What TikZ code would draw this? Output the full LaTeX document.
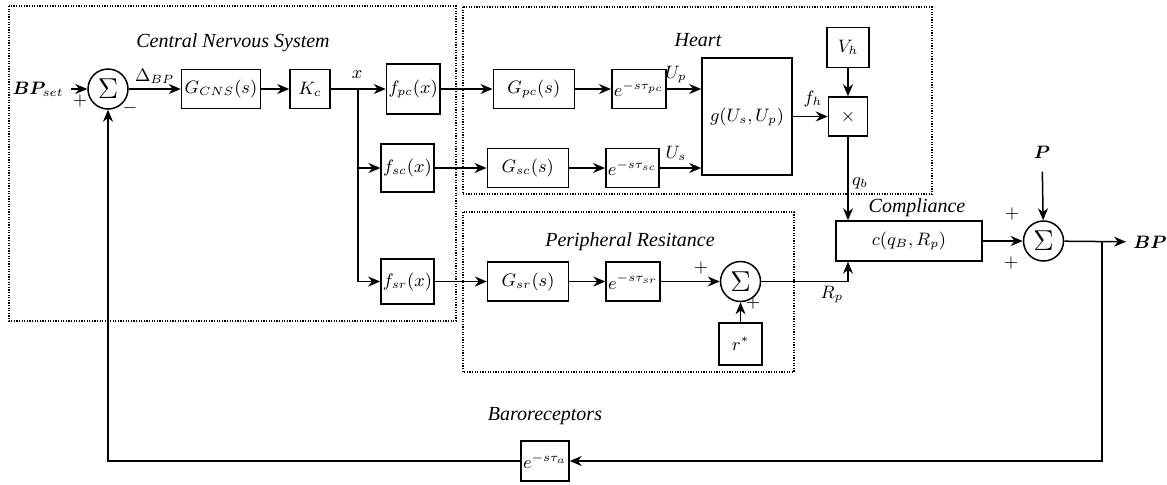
\documentclass[tikz,border=0pt]{standalone}
\usepackage{fontspec}
\setmainfont{Liberation Serif}
\usepackage{bm}
\usetikzlibrary{positioning,arrows.meta}

\begin{document}
\begin{tikzpicture}[x=0.5pt,y=-0.5pt,font=\small,
                >={Stealth[length=6pt,width=5pt]},
                every path/.style = {line width=0.75pt},
                block/.style = {draw, minimum width=20pt, minimum height=19.5pt, inner sep=1pt},
                sum/.style = {draw, circle, minimum size=20pt, inner sep=0pt, font=\Large},
                zone/.style = {line width=0.7pt, dash pattern=on 0.6pt off 0.7pt},
                zonetitle/.style = {font=\itshape\normalsize}]
                \useasboundingbox (0,0) rectangle (1167,484);
                % dotted subsystems
                \draw[zone] (9,6) rectangle (456,321);
                \draw[zone] (463,7) rectangle (932,194);
                \draw[zone] (463,212) rectangle (794,372);
                \node[zonetitle] (tcns) at (233,43) {Central Nervous System};
                \node[zonetitle] (theart) at (698,40) {Heart};
                \node[zonetitle] (tper) at (630,242) {Peripheral Resitance};
                \node[zonetitle] (tcomp) at (917,208) {Compliance};
                \node[zonetitle] (tbaro) at (545,416) {Baroreceptors};
                % central nervous system
                \node (bpset) at (38,89) {$\bm{BP}_{set}$};
                \node[sum] (sum1) at (108,89) {$\Sigma$};
                \node[block, minimum width=39.5pt, right=26pt of sum1] (gcns) {$G_{CNS}(s)$};
                \node[block, right=14pt of gcns] (kc) {$K_c$};
                \node[block, minimum width=25.5pt, minimum height=25pt, right=27.5pt of kc] (fpc) {$f_{pc}(x)$};
                \node[block, minimum width=25.5pt, minimum height=24pt] (fsc) at (407.5,168) {$f_{sc}(x)$};
                \node[block, minimum width=25.5pt, minimum height=22.5pt] (fsr) at (407.5,281.5) {$f_{sr}(x)$};
                \coordinate (xsplit) at (358,89);
                \node (plus1) at (80,101) {$+$};
                \node (minus1) at (130,108) {$-$};
                \node (xlbl) at (357,75) {$x$};
                % heart
                \node[block, minimum width=40.5pt, right=26pt of fpc] (gpc) {$G_{pc}(s)$};
                \node[block, minimum width=25pt, right=18pt of gpc] (dpc) {$e^{-s\tau_{pc}}$};
                \node[block, minimum width=40.5pt, right=26pt of fsc] (gsc) {$G_{sc}(s)$};
                \node[block, minimum width=25pt, right=18pt of gsc] (dsc) {$e^{-s\tau_{sc}}$};
                \node[block, minimum width=45pt, minimum height=58.5pt] (g) at (747,116.5) {$g(U_s,U_p)$};
                \node[block, minimum width=19.5pt, right=17.5pt of g] (times) {$\times$};
                \node[block, minimum width=21pt, minimum height=20pt, above=14pt of times] (vh) {$V_h$};
                \node (uplbl) at (676,75) {$U_p$};
                \node (uslbl) at (676,153) {$U_s$};
                \node (fhlbl) at (813,99) {$f_h$};
                \node (qblbl) at (860,183) {$q_b$};
                % peripheral resistance
                \node[block, minimum width=40.5pt, right=26pt of fsr] (gsr) {$G_{sr}(s)$};
                \node[block, minimum width=25pt, right=18pt of gsr] (dsr) {$e^{-s\tau_{sr}}$};
                \node[sum, right=29.5pt of dsr] (sum2) {$\Sigma$};
                \node[block, minimum width=21.5pt, minimum height=21pt, below=10pt of sum2] (rstar) {$r^*$};
                \node (plus2a) at (701,268) {$+$};
                \node (plus2b) at (753,303) {$+$};
                \node (rplbl) at (832,295) {$R_p$};
                % compliance and output
                \node[block, minimum width=73pt, minimum height=20pt] (comp) at (909,241) {$c(q_B,R_p)$};
                \node[sum, right=20pt of comp] (sum3) {$\Sigma$};
                \node (pin) at (1042,152) {$\bm{P}$};
                \node (bpout) at (1150,242) {$\bm{BP}$};
                \node (plus3a) at (1012,214) {$+$};
                \node (plus3b) at (1011,263) {$+$};
                \coordinate (bsplit) at (1102,242);
                \node[block, minimum width=21pt, minimum height=20pt] (baro) at (545,461) {$e^{-s\tau_a}$};
                % connectors
                \path[->]
                    (bpset) edge (sum1)
                    (sum1) edge node [above, yshift=-1pt] {$\Delta_{BP}$} (gcns)
                    (gcns) edge (kc)
                    (kc) edge (fpc)
                    (fpc) edge (gpc)
                    (gpc) edge (dpc)
                    (fsc) edge (gsc)
                    (gsc) edge (dsc)
                    (fsr) edge (gsr)
                    (gsr) edge (dsr)
                    (dsr) edge (sum2)
                    (rstar) edge (sum2)
                    (dpc) edge (dpc -| g.west)
                    (dsc) edge (dsc -| g.west)
                    (g) edge (times)
                    (vh) edge (times)
                    (times) edge (times |- comp.north)
                    (comp) edge (sum3)
                    (pin) edge [shorten <=3pt] (sum3)
                    (sum3) edge (bpout);
                \draw[->] (xsplit) |- (fsr);
                \draw[->] (xsplit |- fsc) -- (fsc);
                \draw[->] (sum2) -| (comp.south -| times);
                \draw[->] (bsplit) |- (baro);
                \draw[->] (baro) -| (sum1);
            \end{tikzpicture}
\end{document}
